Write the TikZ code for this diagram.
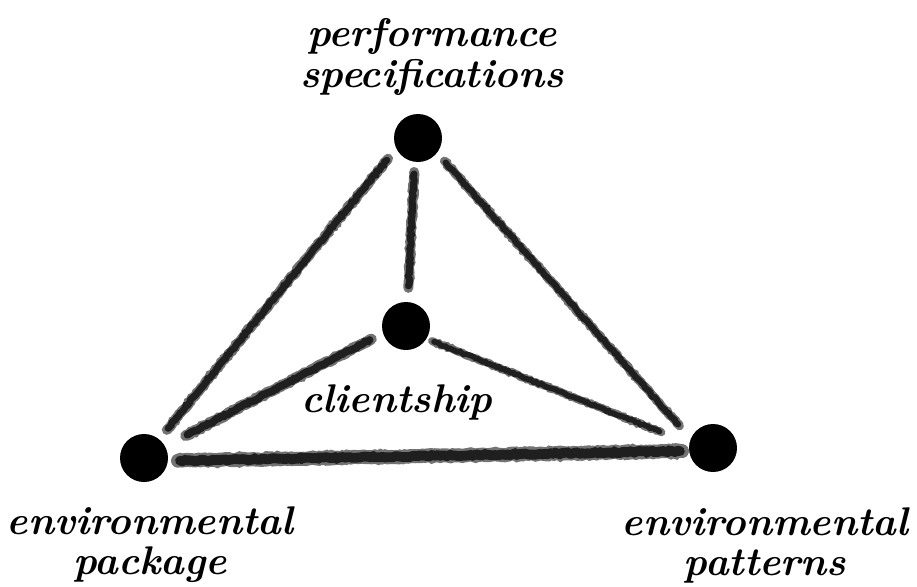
\documentclass[tikz,border=0pt]{standalone}
\usetikzlibrary{decorations.pathmorphing,calc}
\newcommand\crstroke[5]{% from, to, width, shorten start, shorten end
  \draw[crayon,draw=black!55,line width=#3] ($(#1)!#4!(#2)$) -- ($(#2)!#5!(#1)$);
  \draw[crayon,draw=black!88,line width=0.7*#3] ($(#1)!#4+2pt!(#2)$) -- ($(#2)!#5+2pt!(#1)$);}
\begin{document}
\begin{tikzpicture}[x=1pt,y=-1pt,
  dot/.style={circle,fill=black,inner sep=0pt,minimum size=48pt},
  crayon/.style={line cap=round,decorate,
    decoration={random steps,segment length=2.5pt,amplitude=0.8pt}},
  hand/.style={inner sep=0pt,align=center,font=\fontsize{40}{40}\selectfont\bfseries\itshape}]
\pgfmathsetseed{7}
\useasboundingbox (0,0) rectangle (917,586);
\fill[white] (0,0) rectangle (917,586);
% dots
\node[dot] (top) at (418,138) {};
\node[dot] (mid) at (406,326) {};
\node[dot] (lft) at (144,458) {};
\node[dot] (rgt) at (713,448) {};
% strokes
\crstroke{top.206}{lft.51}{10pt}{13pt}{12pt}
\crstroke{top.262}{mid.86}{10pt}{10pt}{14pt}
\crstroke{top.322}{rgt.157}{9pt}{11pt}{17pt}
\crstroke{mid.197}{lft.29}{11pt}{13pt}{23pt}
\crstroke{mid.328}{rgt.169}{8pt}{6pt}{30pt}
\crstroke{lft.353}{rgt.187}{14pt}{10pt}{7pt}
% labels
\node[hand] (tperf) at (432,57) {performance\\specifications};
\node[hand] (tcli) at (397,402) {clientship};
\node[hand] (tpkg) at (150,545) {environmental\\package};
\node[hand] (tpat) at (765,545) {environmental\\patterns};
\end{tikzpicture}
\end{document}
